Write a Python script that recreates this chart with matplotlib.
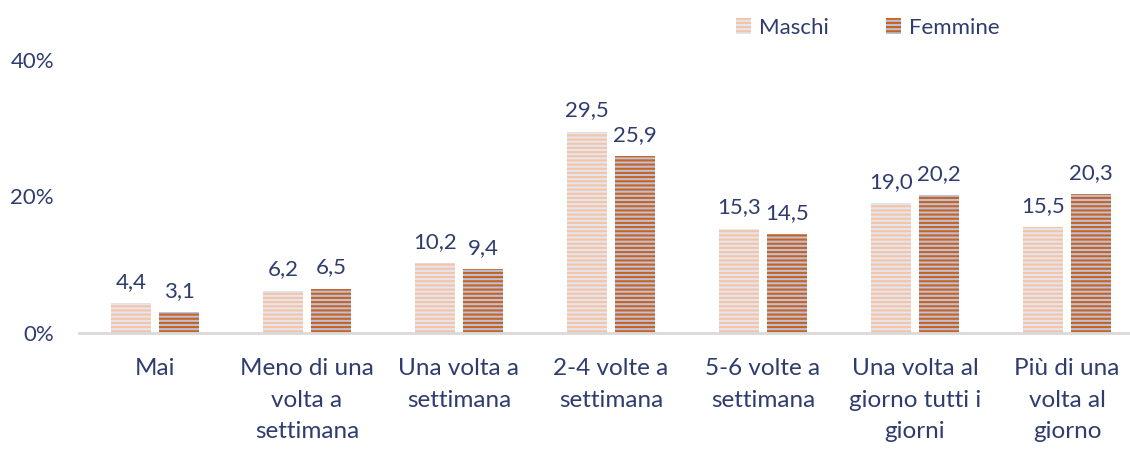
import matplotlib.pyplot as plt
import numpy as np

categories = ['Mai', 'Meno di una\nvolta a\nsettimana', 'Una volta a\nsettimana',
              '2-4 volte a\nsettimana', '5-6 volte a\nsettimana',
              'Una volta al\ngiorno tutti i\ngiorni', 'Più di una\nvolta al\ngiorno']
maschi = [4.4, 6.2, 10.2, 29.5, 15.3, 19.0, 15.5]
femmine = [3.1, 6.5, 9.4, 25.9, 14.5, 20.2, 20.3]
series_names = ['Maschi', 'Femmine']

text_color = '#2F3C6E'
plt.rcParams['font.family'] = ['Lato', 'DejaVu Sans']
plt.rcParams['hatch.linewidth'] = 1.5


def fmt(v):
    return f'{v:.1f}'.replace('.', ',')


def main():
    fig = plt.figure(figsize=(11.3, 4.49), dpi=100)
    ax = fig.add_axes([79 / 1130, 116 / 449, 1051 / 1130, 273 / 449])
    x = np.arange(len(categories))
    w = 0.263
    off = 0.158
    b1 = ax.bar(x - off, maschi, w, color='#E4E5F3', edgecolor='#F7C4A0',
                hatch='----', linewidth=0, label=series_names[0])
    b2 = ax.bar(x + off, femmine, w, color='#BCC0D8', edgecolor='#C9621D',
                hatch='----', linewidth=0, label=series_names[1])
    for bars, vals in ((b1, maschi), (b2, femmine)):
        for b, v in zip(bars, vals):
            ax.annotate(fmt(v), (b.get_x() + b.get_width() / 2, v),
                        xytext=(0, 8), textcoords='offset points',
                        ha='center', va='bottom', fontsize=16, color=text_color)

    ax.set_xlim(-0.5, len(categories) - 0.5 - 13 / 152)
    ax.set_ylim(0, 40)
    ax.set_yticks([0, 20, 40])
    ax.set_yticklabels(['0%', '20%', '40%'])
    ax.set_xticks(x)
    ax.set_xticklabels(categories, linespacing=1.62, fontsize=17.5)
    ax.tick_params(axis='both', length=0, labelcolor=text_color)
    ax.tick_params(axis='y', pad=18, labelsize=16)
    ax.tick_params(axis='x', pad=18)
    for s in ['top', 'right', 'left']:
        ax.spines[s].set_visible(False)
    ax.spines['bottom'].set_color('#D9D9D9')
    ax.spines['bottom'].set_linewidth(2)

    fig.legend(loc='upper left', bbox_to_anchor=(736 / 1130, 1 - 18 / 449), ncol=2,
               frameon=False, fontsize=16, labelcolor=text_color,
               borderpad=0, borderaxespad=0,
               handlelength=0.68, handleheight=0.7, handletextpad=0.34,
               columnspacing=2.6)
    plt.savefig('out.png')
    return 0


if __name__ == "__main__":
    main()
